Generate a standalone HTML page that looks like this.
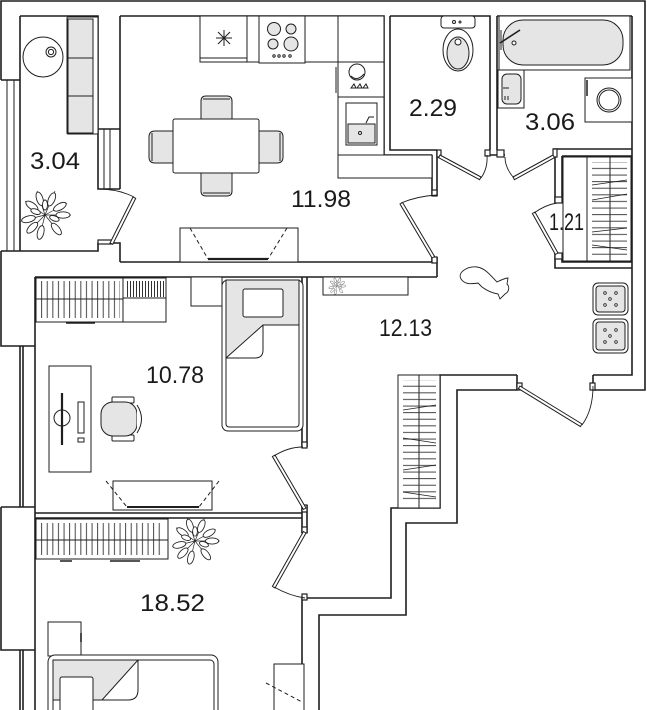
<!DOCTYPE html>
<html><head><meta charset="utf-8"><style>
html,body{margin:0;padding:0;background:#fff;}
svg{display:block}
text{font-family:"Liberation Sans",sans-serif;font-size:24px;fill:#1a1a1a}
</style></head><body>
<svg width="647" height="710" viewBox="0 0 647 710" xmlns="http://www.w3.org/2000/svg">
<defs>
<pattern id="vl" width="5.6" height="10" patternUnits="userSpaceOnUse"><rect x="2" y="0" width="0.9" height="10" fill="#333"/></pattern>
<pattern id="vl2" width="3" height="10" patternUnits="userSpaceOnUse"><rect x="1" y="0" width="1" height="10" fill="#333"/></pattern>
<pattern id="hl" width="10" height="6.6" patternUnits="userSpaceOnUse"><rect x="0" y="3" width="10" height="0.9" fill="#333"/></pattern>
<g id="plant" fill="#fff" stroke="#222" stroke-width="0.9">
<g stroke-width="0.7">
<line x1="0" y1="0" x2="26" y2="0"/><line x1="0" y1="0" x2="-24" y2="6"/><line x1="0" y1="0" x2="10" y2="-24"/>
<line x1="0" y1="0" x2="-8" y2="-24"/><line x1="0" y1="0" x2="-20" y2="-14"/><line x1="0" y1="0" x2="16" y2="20"/>
<line x1="0" y1="0" x2="-6" y2="24"/><line x1="0" y1="0" x2="22" y2="-12"/><line x1="0" y1="0" x2="-18" y2="18"/>
</g>
<ellipse cx="18" cy="0" rx="7" ry="3.2"/>
<ellipse cx="0" cy="0" rx="7" ry="3.2" transform="rotate(166) translate(17,0)"/>
<ellipse cx="0" cy="0" rx="7" ry="3.2" transform="rotate(-67) translate(17,0)"/>
<ellipse cx="0" cy="0" rx="7" ry="3.2" transform="rotate(-108) translate(17,0)"/>
<ellipse cx="0" cy="0" rx="7" ry="3.2" transform="rotate(-145) translate(16,0)"/>
<ellipse cx="0" cy="0" rx="7" ry="3.2" transform="rotate(51) translate(18,0)"/>
<ellipse cx="0" cy="0" rx="7" ry="3.2" transform="rotate(104) translate(18,0)"/>
<ellipse cx="0" cy="0" rx="7" ry="3.2" transform="rotate(-29) translate(17,0)"/>
<ellipse cx="0" cy="0" rx="7" ry="3.2" transform="rotate(135) translate(18,0)"/>
<ellipse cx="0" cy="0" rx="5" ry="2.5" transform="rotate(20) translate(10,0)"/>
<ellipse cx="0" cy="0" rx="5" ry="2.5" transform="rotate(200) translate(10,0)"/>
<ellipse cx="0" cy="0" rx="5" ry="2.5" transform="rotate(-90) translate(10,0)"/>
</g>
</defs>

<!-- WALLS -->
<g fill="none" stroke="#1e1e1e" stroke-width="1.6">
<path d="M1,80 V1 H645 V390 H593 V375"/>
<path d="M517,375 V390 H457 V523 H406 V615 H319 V710"/>
<path d="M632,16 V375 H593"/>
<path d="M517,375 H440 V508 H391 V598 H307"/>
<path d="M302,598 V710"/>
<path d="M1,80 H20"/>
<path d="M20,16 V251"/>
<path d="M20,16 H98 V129 H120"/>
<path d="M98,129 V189 H120"/>
<path d="M120,16 V189"/>
<path d="M1,251 H98 V243 H120 V262"/>
<path d="M1,251 V346 H35"/>
<path d="M35,277 V710"/>
<path d="M35,277 H437"/>
<path d="M120,16 H384 V155"/>
<path d="M120,262 H432 V257"/>
<path d="M432,155 V196"/>
<path d="M437,150 V196"/>
<path d="M437,257 V277"/>
<path d="M390,16 V150 H437"/>
<path d="M390,16 H490 V150"/>
<path d="M497,16 V150"/>
<path d="M497,16 H632"/>
<path d="M384,155 H432"/>
<path d="M485,155 H505"/>
<path d="M553,149 H632"/>
<path d="M562,156 H632"/>
<path d="M555,149 V203"/>
<path d="M562,156 V203"/>
<path d="M555,253 V268 H632"/>
<path d="M562,259 V262 H632"/>
<path d="M302,277 V447"/>
<path d="M307,277 V447"/>
<path d="M302,505 V533"/>
<path d="M307,505 V533"/>
<path d="M35,513 H302"/>
<path d="M35,518 H302"/>
<path d="M20,346 V507"/>
<path d="M23,346 V507"/>
<path d="M1,507 H35"/>
<path d="M1,507 V650 H35"/>
<path d="M20,650 V710"/>
<path d="M23,650 V710"/>
</g>
<g fill="none" stroke="#1e1e1e" stroke-width="1">
<path d="M7,80 V251"/><path d="M14,80 V251"/>
<path d="M104,129 V189"/><path d="M110,129 V189"/>
</g>
<!-- jambs -->
<g fill="#fff" stroke="#1e1e1e" stroke-width="1.2">
<rect x="432" y="190" width="5" height="6"/>
<rect x="432" y="257" width="5" height="6"/>
<rect x="437" y="150" width="4" height="7"/>
<rect x="485" y="150" width="5" height="6"/>
<rect x="497" y="150" width="7" height="7"/>
<rect x="553" y="149" width="4" height="8"/>
<rect x="555" y="197" width="7" height="6"/>
<rect x="555" y="253" width="7" height="6"/>
<rect x="302" y="442" width="5" height="6"/>
<rect x="302" y="505" width="5" height="7"/>
<rect x="302" y="527" width="5" height="6"/>
<rect x="302" y="594" width="5" height="6"/>
<rect x="517" y="383" width="5" height="7"/>
<rect x="590" y="383" width="5" height="7"/>
<rect x="98" y="240" width="14" height="4"/>
</g>

<!-- DOORS -->
<g fill="#fff" stroke="#1e1e1e" stroke-width="1">
<polygon points="432,258 400,204 402.6,202.5 434.6,256.5"/>
<polygon points="440,155 481,177 479.6,179.7 438.6,157.7"/>
<polygon points="553,155 513,177 514.4,179.7 554.4,157.7"/>
<polygon points="558,253 535,212 532.4,213.5 555.4,254.5"/>
<polygon points="110,243 133,197 135.7,198.3 112.7,244.3"/>
<polygon points="306,508 275,455 272.4,456.5 303.4,509.5"/>
<polygon points="306,533 275,588 272.4,586.5 303.4,531.5"/>
<polygon points="520,386 582,424 580.4,426.6 518.4,388.6"/>
</g>
<g fill="none" stroke="#1e1e1e" stroke-width="0.9">
<path d="M401,203 Q418,196 437,195"/>
<path d="M481,178 Q488,168 487,155"/>
<path d="M514,178 Q505,168 505,157"/>
<path d="M534,213 Q545,205 557,203"/>
<path d="M134,197 Q118,189 99,189"/>
<path d="M274,456 Q288,447 303,447"/>
<path d="M274,587 Q290,596 305,598"/>
<path d="M582,425 Q593,410 593,386"/>
</g>

<!-- FURNITURE -->
<g fill="#fff" stroke="#1e1e1e" stroke-width="1">
<!-- balcony -->
<circle cx="43" cy="57" r="20"/>
<circle cx="51" cy="52" r="5"/><circle cx="51" cy="52" r="2.6"/>
<rect x="67" y="17" width="31" height="117" rx="1"/>
<rect x="68" y="19" width="25" height="39" fill="#e5e5e5"/>
<rect x="68" y="58" width="25" height="38" fill="#e5e5e5"/>
<rect x="68" y="96" width="25" height="37" fill="#e5e5e5"/>

<!-- kitchen top -->
<rect x="200" y="16" width="47" height="46"/>
<rect x="200" y="58" width="47" height="4"/>
<rect x="247" y="16" width="12" height="46"/>
<rect x="259" y="16" width="46" height="47"/>
<circle cx="274" cy="29" r="6.5" fill="#e5e5e5"/>
<circle cx="291" cy="29" r="5" fill="#e5e5e5"/>
<circle cx="273" cy="44" r="5" fill="#e5e5e5"/>
<circle cx="291" cy="44" r="7" fill="#e5e5e5"/>
<circle cx="274" cy="56" r="1.2"/><circle cx="279" cy="56" r="1.2"/><circle cx="284" cy="56" r="1.2"/><circle cx="290" cy="56" r="1.2"/>
<rect x="305" y="16" width="33" height="46"/>
<rect x="338" y="16" width="46" height="46"/>
<rect x="338" y="62" width="46" height="35"/>
<circle cx="357" cy="72" r="8"/><path d="M351,76 Q357,82 364,74" fill="none"/>
<path d="M351,88 l3,-4 l2,4 z M357,88 l3,-4 l2,4 z M363,88 l3,-4 l2,4 z"/>
<path d="M336,67 V93" fill="none"/>
<rect x="338" y="97" width="46" height="58"/>
<rect x="346" y="103" width="31" height="42"/>
<rect x="348" y="124" width="27" height="19" fill="#e5e5e5"/>
<circle cx="360" cy="133" r="1.5"/>
<path d="M366,123 l3,-6 h5" fill="none"/>
<rect x="338" y="155" width="94" height="23"/>
<!-- dining -->
<path d="M201,119 V101 Q201,96 206,96 H227 Q232,96 232,101 V119 Z" fill="#e5e5e5"/>
<path d="M203,99 H230" fill="none"/>
<path d="M201,173 V191 Q201,196 206,196 H227 Q232,196 232,191 V173 Z" fill="#e5e5e5"/>
<path d="M203,193 H230" fill="none"/>
<path d="M173,131 H155 Q149,131 149,137 V157 Q149,163 155,163 H173 Z" fill="#e5e5e5"/>
<path d="M152,133 V161" fill="none"/>
<path d="M259,131 H277 Q283,131 283,137 V157 Q283,163 277,163 H259 Z" fill="#e5e5e5"/>
<path d="M280,133 V161" fill="none"/>
<rect x="173" y="119" width="86" height="54" rx="2"/>
<!-- kitchen tv -->
<rect x="180" y="228" width="118" height="34"/>
<path d="M190,228 L208,259 M287,228 L268,259" stroke-dasharray="4,3" fill="none"/>
<path d="M208,259 H268" stroke-width="2.2" fill="none"/>

<!-- toilet -->
<rect x="441" y="16" width="34" height="12" rx="3"/>
<circle cx="454" cy="22" r="1.5"/><circle cx="460" cy="22" r="1"/>
<ellipse cx="458" cy="50" rx="15" ry="21"/>
<ellipse cx="458" cy="53" rx="11" ry="16" fill="#e5e5e5"/>
<circle cx="458" cy="42" r="3"/>

<!-- bath -->
<rect x="499" y="16" width="131" height="54"/>
<rect x="503" y="20" width="120" height="45" rx="20" fill="#e5e5e5"/>
<path d="M500,43 L520,30" fill="none" stroke-width="1.6"/>
<circle cx="514" cy="43" r="2"/>
<path d="M501,30 V50" fill="none"/>
<rect x="498" y="70" width="26" height="38"/>
<rect x="502" y="74" width="19" height="30" rx="5" fill="#e5e5e5"/>
<path d="M503,88 h6 M505,96 v4 M508,96 v4" fill="none"/>
<rect x="585" y="78" width="47" height="44"/>
<circle cx="609" cy="100" r="12"/><circle cx="609" cy="100" r="10"/>
<path d="M587,80 V96" fill="none" stroke-width="1.5"/>

<!-- closet 1.21 -->
<rect x="563" y="157" width="68" height="104"/>
<path d="M587,157 V261 M610,157 V261" fill="none"/>
<rect x="592" y="162" width="35" height="96" fill="url(#hl)" stroke="none"/>
<path d="M592,185 L627,180 M592,200 L627,194 M592,232 L627,228 M592,245 L627,250" fill="none" stroke-width="0.8"/>

<!-- corridor -->
<rect x="323" y="277" width="85" height="18"/>
<rect x="593" y="283" width="35" height="32" rx="5"/>
<rect x="596" y="286" width="29" height="26" rx="3" fill="#e5e5e5"/>
<rect x="593" y="319" width="35" height="34" rx="5"/>
<rect x="596" y="322" width="29" height="28" rx="3" fill="#e5e5e5"/>
<g fill="#fff" stroke-width="0.8">
<circle cx="605" cy="293" r="1.3"/><circle cx="616" cy="293" r="1.3"/><circle cx="610" cy="299" r="1.3"/><circle cx="605" cy="305" r="1.3"/><circle cx="616" cy="305" r="1.3"/>
<circle cx="605" cy="330" r="1.3"/><circle cx="616" cy="330" r="1.3"/><circle cx="610" cy="336" r="1.3"/><circle cx="605" cy="342" r="1.3"/><circle cx="616" cy="342" r="1.3"/>
</g>
<path d="M461,279 C457,272 468,266 477,267 C485,268 490,275 497,282 C501,280 505,278 508,278 L507,284 C510,287 509,292 505,294 L500,299 L498,294 C492,293 486,290 482,287 L478,283 C472,284 465,285 461,279 Z" stroke-width="0.9"/>
<rect x="398" y="375" width="42" height="133"/>
<path d="M419,375 V508" fill="none"/>
<rect x="403" y="380" width="33" height="124" fill="url(#hl)" stroke="none"/>
<path d="M403,410 L436,405 M403,438 L436,443 M403,470 L436,465 M403,492 L436,497" fill="none" stroke-width="0.8"/>

<!-- bedroom 10.78 -->
<rect x="36" y="278" width="87" height="44"/>
<rect x="40" y="281" width="80" height="37" fill="url(#vl)" stroke="none"/>
<path d="M36,299 H123" fill="none"/>
<path d="M66,323 H95" fill="none" stroke-width="1.6"/>
<rect x="123" y="278" width="43" height="44"/>
<rect x="125" y="281" width="39" height="16" fill="url(#vl2)" stroke="none"/>
<path d="M123,298 H166" fill="none"/>
<rect x="191" y="277" width="31" height="29"/>
<rect x="222" y="280" width="81" height="151" rx="6"/>
<rect x="226" y="280" width="73" height="147" rx="3"/>
<path d="M226,280 H299 V325 H263 L226,358 Z" fill="#e5e5e5"/>
<path d="M263,325 V350 Q263,358 255,358 H226" fill="none"/>
<rect x="243" y="289" width="40" height="28" rx="2"/>
<rect x="49" y="366" width="42" height="106"/>
<circle cx="62" cy="418" r="8"/>
<path d="M62,393 V445" fill="none" stroke-width="2.2"/>
<rect x="78" y="402" width="6" height="31"/>
<rect x="78" y="438" width="6" height="4"/>
<rect x="112" y="397" width="22" height="6" rx="1"/>
<rect x="112" y="435" width="22" height="6" rx="1"/>
<rect x="101" y="402" width="36" height="34" rx="12" fill="#e5e5e5"/>
<path d="M137,405 Q146,419 137,433" fill="#fff"/>
<rect x="113" y="481" width="99" height="29"/>
<path d="M106,481 L127,507 M219,481 L199,507" stroke-dasharray="4,3" fill="none"/>
<path d="M127,507 H199" fill="none" stroke-width="2"/>

<!-- bedroom 18.52 -->
<rect x="36" y="519" width="132" height="40"/>
<rect x="40" y="523" width="124" height="32" fill="url(#vl)" stroke="none"/>
<path d="M36,540 H168" fill="none"/>
<path d="M60,561 H72 M110,561 H140" fill="none" stroke-width="1.6"/>
<rect x="48" y="622" width="33" height="34"/>
<path d="M81,633 V642" fill="none" stroke-width="1.6"/>
<rect x="48" y="655" width="170" height="70" rx="7"/>
<rect x="53" y="660" width="161" height="60" rx="4"/>
<path d="M53,660 H138 L102,700 H53 Z" fill="#e5e5e5"/>
<path d="M138,660 V690 Q138,700 128,700 H102" fill="none"/>
<rect x="60" y="677" width="33" height="40" rx="2"/>
<rect x="274" y="664" width="30" height="56"/>
<path d="M266,683 L302,702" stroke-dasharray="4,3" fill="none"/>
</g>

<use href="#plant" transform="translate(45,215)"/>
<use href="#plant" transform="translate(195,541) scale(0.95)"/>
<use href="#plant" transform="translate(337,286) scale(0.35)"/>
<path d="M218,32 L230,44 M230,32 L218,44 M224,30 V46 M216,38 H232" stroke="#1e1e1e" stroke-width="1" fill="none"/>

<!-- LABELS -->
<text x="30" y="169" textLength="50" lengthAdjust="spacingAndGlyphs">3.04</text>
<text x="291" y="207" textLength="60" lengthAdjust="spacingAndGlyphs">11.98</text>
<text x="409" y="116" textLength="48" lengthAdjust="spacingAndGlyphs">2.29</text>
<text x="525" y="130" textLength="50" lengthAdjust="spacingAndGlyphs">3.06</text>
<text x="549" y="230" textLength="35" lengthAdjust="spacingAndGlyphs">1.21</text>
<text x="379" y="336" textLength="53" lengthAdjust="spacingAndGlyphs">12.13</text>
<text x="146" y="383" textLength="58" lengthAdjust="spacingAndGlyphs">10.78</text>
<text x="140" y="611" textLength="65" lengthAdjust="spacingAndGlyphs">18.52</text>
</svg>
</body></html>
